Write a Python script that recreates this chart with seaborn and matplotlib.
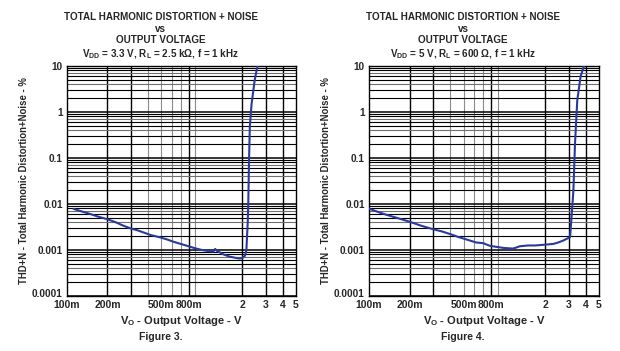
import numpy as np
import pandas as pd
import matplotlib
matplotlib.use("Agg")
import matplotlib.pyplot as plt
import matplotlib.transforms as mtransforms
import seaborn as sns

# --- data ---
# Figure 3: VDD = 3.3 V, RL = 2.5 kOhm
vo_fig3 = [0.112, 0.13, 0.15, 0.17, 0.197, 0.23, 0.26, 0.30, 0.33, 0.37, 0.42, 0.49,
           0.55, 0.62, 0.70, 0.80, 0.90, 1.0, 1.1, 1.22, 1.26, 1.30, 1.45, 1.6, 1.75,
           1.9, 2.0, 2.1, 2.15, 2.2, 2.22, 2.235, 2.25, 2.28, 2.35, 2.48, 2.60]
thd_fig3 = [0.0078, 0.0068, 0.0060, 0.0053, 0.0047, 0.0040, 0.0034, 0.0029, 0.0027,
            0.0024, 0.0021, 0.00188, 0.0017, 0.0015, 0.00135, 0.0012, 0.00108, 0.00100,
            0.00095, 0.00092, 0.00105, 0.00095, 0.00080, 0.00072, 0.00068, 0.00065,
            0.00066, 0.00075, 0.00098, 0.004, 0.01, 0.03, 0.09, 0.48, 1.5, 5.0, 10.0]

# Figure 4: VDD = 5 V, RL = 600 Ohm
vo_fig4 = [0.10, 0.12, 0.135, 0.16, 0.2, 0.24, 0.30, 0.35, 0.40, 0.46, 0.557, 0.62,
           0.70, 0.78, 0.9, 1.0, 1.16, 1.22, 1.3, 1.5, 1.7, 2.0, 2.3, 2.5, 2.73, 3.06,
           3.15, 3.24, 3.33, 3.46, 3.66, 3.88]
thd_fig4 = [0.0079, 0.0065, 0.0058, 0.0050, 0.0041, 0.0034, 0.0028, 0.0025, 0.0022,
            0.0019, 0.0016, 0.00145, 0.0014, 0.00123, 0.00115, 0.0011, 0.00107, 0.00112,
            0.0012, 0.00125, 0.00125, 0.00130, 0.00135, 0.00145, 0.0016, 0.0019,
            0.006, 0.02, 0.21, 1.8, 5.9, 10.0]

x_ticks = [0.1, 0.2, 0.5, 0.8, 2, 3, 4, 5]
x_labels = ["100m", "200m", "500m", "800m", "2", "3", "4", "5"]
y_ticks = [0.0001, 0.001, 0.01, 0.1, 1, 10]
y_labels = ["0.0001", "0.001", "0.01", "0.1", "1", "10"]

titles = [
    "TOTAL HARMONIC DISTORTION + NOISE\nvs\nOUTPUT VOLTAGE\n"
    r"V$_{\mathregular{DD}}$ = 3.3 V, R$_{\mathregular{L}}$ = 2.5 k$\mathregular{\Omega}$, f = 1 kHz",
    "TOTAL HARMONIC DISTORTION + NOISE\nvs\nOUTPUT VOLTAGE\n"
    r"V$_{\mathregular{DD}}$ = 5 V, R$_{\mathregular{L}}$ = 600 $\mathregular{\Omega}$, f = 1 kHz",
]
fig_names = ["Figure 3.", "Figure 4."]

sns.set_style("white")
plt.rcParams["font.family"] = ["Liberation Sans", "DejaVu Sans"]
plt.rcParams["font.weight"] = "bold"
plt.rcParams["mathtext.default"] = "bf"

curve_color = "#2a3a9c"
fig = plt.figure(figsize=(6.2, 3.51), dpi=100)

# axes rectangles in figure fractions (left, bottom, width, height)
boxes = [(0.108, 0.157, 0.369, 0.655), (0.595, 0.157, 0.371, 0.655)]
curves = [(vo_fig3, thd_fig3), (vo_fig4, thd_fig4)]

dark_x = [0.2, 0.3, 0.8, 2, 3, 4]

for i, (box, (vo, thd)) in enumerate(zip(boxes, curves)):
    ax = fig.add_axes(box)
    df = pd.DataFrame({"vo": vo, "thd": thd})
    ax.set_xscale("log")
    ax.set_yscale("log")
    ax.set_xlim(0.1, 5)
    ax.set_ylim(0.0001, 10)

    # grid: dense log grid like the scanned datasheet
    for dec in [0.1, 1]:
        for m in range(2, 10):
            v = dec * m
            if v >= 5:
                continue
            dark = any(abs(v - d) < 1e-9 for d in dark_x)
            ax.axvline(v, color="black" if dark else "#8c8c8c",
                       lw=1.0 if dark else 0.8, zorder=1)
    for dec in [0.0001, 0.001, 0.01, 0.1, 1]:
        ax.axhline(dec, color="black", lw=1.1, zorder=1)
        for m in range(2, 10):
            c = "black" if m in (2, 3, 5, 6, 8, 9) else "#707070"
            ax.axhline(dec * m, color=c, lw=0.8, zorder=1)

    sns.lineplot(data=df, x="vo", y="thd", ax=ax, color=curve_color, lw=1.5,
                 sort=False, zorder=3)

    ax.set_xticks(x_ticks)
    ax.set_xticklabels(x_labels)
    ax.set_xticks([], minor=True)
    ax.set_yticks(y_ticks)
    ax.set_yticklabels(y_labels)
    ax.set_yticks([], minor=True)
    ax.tick_params(axis="x", length=0, labelsize=7.5, pad=3)
    ax.tick_params(axis="y", length=0, labelsize=7.2, pad=3)
    for t in ax.get_xticklabels() + ax.get_yticklabels():
        t.set_fontweight("bold")
    # lift the bottom y label a little, as in the datasheet
    lab0 = ax.get_yticklabels()[0]
    lab0.set_transform(lab0.get_transform() +
                       mtransforms.ScaledTranslation(0, 3 / 100, fig.dpi_scale_trans))
    for s in ax.spines.values():
        s.set_color("black")
        s.set_linewidth(1.0)

    ax.set_xlabel(r"V$_{\mathregular{O}}$ - Output Voltage - V", fontsize=8,
                  fontweight="bold", labelpad=3)
    ax.set_ylabel("THD+N - Total Harmonic Distortion+Noise - %", fontsize=6.9,
                  fontweight="bold", labelpad=2)

    cx = box[0] + box[2] * 0.41
    fig.text(cx, 0.965, titles[i], ha="center", va="top", fontsize=7.1,
             fontweight="bold", linespacing=1.2)
    fig.text(cx, 0.04, fig_names[i], ha="center", va="center", fontsize=7.5,
             fontweight="bold")

fig.savefig("out.png", dpi=100)
